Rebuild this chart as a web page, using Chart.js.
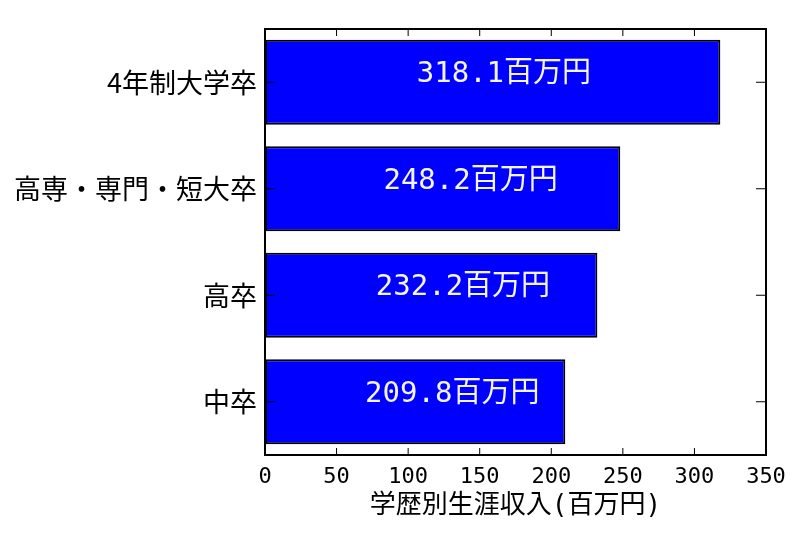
<!DOCTYPE html>
<html>
<head>
<meta charset="utf-8">
<script src="https://cdn.jsdelivr.net/npm/chart.js@4/dist/chart.umd.min.js"></script>
<style>
  html, body { margin: 0; padding: 0; background: #fff; }
  #wrap { width: 800px; height: 537px; }
</style>
</head>
<body>
<div id="wrap"><canvas id="barChart"></canvas></div>
<script>
// données
var categories = ['4年制大学卒', '高専・専門・短大卒', '高卒', '中卒'];
var incomes = [318.1, 248.2, 232.2, 209.8];
var xTicks = [0, 50, 100, 150, 200, 250, 300, 350];
var unit = '百万円';
var xTitle = '学歴別生涯収入(百万円)';

var monoFont = '"DejaVu Sans Mono", "Noto Sans CJK JP", sans-serif';
var cjkFont = '"Noto Sans CJK JP", sans-serif';

// cadre + petites graduations vers l'intérieur (style matplotlib)
var framePlugin = {
    id: 'frame',
    afterDraw: function (chart) {
        var ctx = chart.ctx;
        var a = chart.chartArea;
        var xs = chart.scales.x;
        var ys = chart.scales.y;
        ctx.save();
        ctx.strokeStyle = '#000';
        ctx.lineWidth = 1;
        xTicks.forEach(function (t) {
            var px = xs.getPixelForValue(t);
            ctx.beginPath();
            ctx.moveTo(px, a.bottom); ctx.lineTo(px, a.bottom - 7);
            ctx.moveTo(px, a.top); ctx.lineTo(px, a.top + 7);
            ctx.stroke();
        });
        categories.forEach(function (c, i) {
            var py = ys.getPixelForValue(i);
            ctx.beginPath();
            ctx.moveTo(a.left, py); ctx.lineTo(a.left + 10, py);
            ctx.moveTo(a.right, py); ctx.lineTo(a.right - 10, py);
            ctx.stroke();
        });
        ctx.lineWidth = 2;
        ctx.strokeRect(a.left, a.top, a.right - a.left, a.bottom - a.top);
        ctx.restore();
    }
};

// étiquettes blanches dans les barres
var valueLabels = {
    id: 'valueLabels',
    afterDatasetsDraw: function (chart) {
        var ctx = chart.ctx;
        var xs = chart.scales.x;
        var meta = chart.getDatasetMeta(0);
        ctx.save();
        ctx.fillStyle = '#f4f4f4';
        ctx.font = '29px ' + monoFont;
        ctx.textAlign = 'left';
        ctx.textBaseline = 'alphabetic';
        meta.data.forEach(function (bar, i) {
            var v = incomes[i];
            ctx.fillText(v.toFixed(1) + unit, xs.getPixelForValue(v / 3), bar.y);
        });
        ctx.restore();
    }
};

var ctx = document.getElementById('barChart').getContext('2d');

var myChart = new Chart(ctx, {
    type: 'bar',
    data: {
        labels: categories,
        datasets: [{
            data: incomes,
            backgroundColor: '#0000ff',
            borderColor: '#000',
            borderWidth: 2,
            borderSkipped: false,
            barPercentage: 0.8,
            categoryPercentage: 1.0
        }]
    },
    options: {
        indexAxis: 'y',
        responsive: true,
        maintainAspectRatio: false,
        animation: false,
        layout: { padding: { top: 29, right: 34, left: 0, bottom: 0 } },
        plugins: {
            legend: { display: false },
            tooltip: { enabled: false }
        },
        scales: {
            x: {
                min: 0,
                max: 350,
                grid: { display: false, drawTicks: false },
                border: { display: false },
                afterBuildTicks: function (axis) {
                    axis.ticks = xTicks.map(function (v) { return { value: v }; });
                },
                afterFit: function (axis) { axis.height = 82; },
                ticks: {
                    color: '#000',
                    padding: 9,
                    maxRotation: 0,
                    font: { family: monoFont, size: 22 }
                },
                title: {
                    display: true,
                    text: xTitle,
                    color: '#000',
                    padding: { top: 4, bottom: 15 },
                    font: { family: monoFont, size: 26 }
                }
            },
            y: {
                grid: { display: false, drawTicks: false },
                border: { display: false },
                afterFit: function (axis) { axis.width = 265; },
                ticks: {
                    color: '#000',
                    padding: 8,
                    font: { family: cjkFont, size: 27 }
                }
            }
        }
    },
    plugins: [framePlugin, valueLabels]
});
</script>
</body>
</html>
